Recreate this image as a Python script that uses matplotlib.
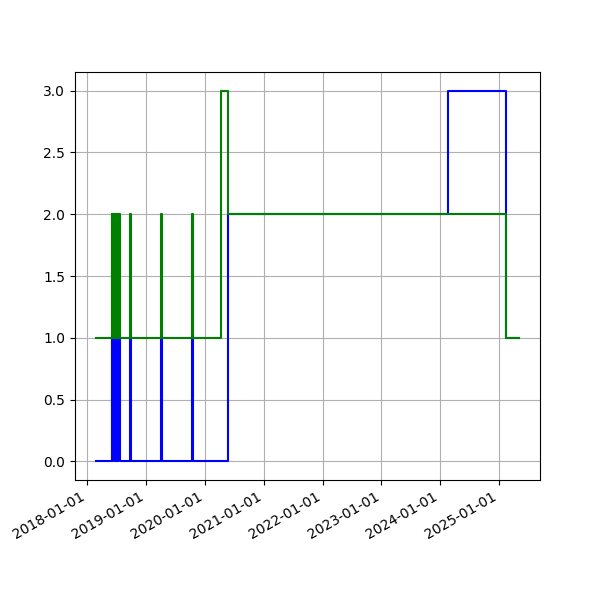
import numpy as np
import pandas as pd
import matplotlib
matplotlib.use("Agg")
import matplotlib.pyplot as plt
import matplotlib.dates as mdates

# step changes (steps-post)
blue_dates = ["2018-02-25", "2018-06-03", "2018-06-06", "2018-06-08", "2018-06-22",
              "2018-06-25", "2018-07-01", "2018-07-04", "2018-07-10", "2018-07-13",
              "2018-07-22", "2018-09-25", "2018-09-29", "2019-04-05", "2019-04-09",
              "2019-10-15", "2019-10-19", "2020-05-22", "2024-02-20", "2025-02-13",
              "2025-05-04"]
blue_vals = [0, 1, 0, 1, 0, 1, 0, 1, 0, 1, 0, 1, 0, 1, 0, 1, 0, 2, 3, 1, 1]

green_dates = ["2018-02-25", "2018-06-03", "2018-06-06", "2018-06-09", "2018-06-20",
               "2018-06-24", "2018-07-02", "2018-07-05", "2018-07-12", "2018-07-15",
               "2018-07-22", "2018-09-25", "2018-09-29", "2019-04-05", "2019-04-09",
               "2019-10-15", "2019-10-19", "2020-04-08", "2020-05-22", "2025-02-13",
               "2025-05-04"]
green_vals = [1, 2, 1, 2, 1, 2, 1, 2, 1, 2, 1, 2, 1, 2, 1, 2, 1, 3, 2, 1, 1]

fig, ax = plt.subplots(figsize=(6, 6), dpi=100)
ax.plot(pd.to_datetime(blue_dates), blue_vals, drawstyle="steps-post", color="blue")
ax.plot(pd.to_datetime(green_dates), green_vals, drawstyle="steps-post", color="green")

ax.xaxis.set_major_locator(mdates.YearLocator())
ax.xaxis.set_major_formatter(mdates.DateFormatter("%Y-%m-%d"))
ax.grid(True)
fig.autofmt_xdate()

plt.savefig("out.png")
